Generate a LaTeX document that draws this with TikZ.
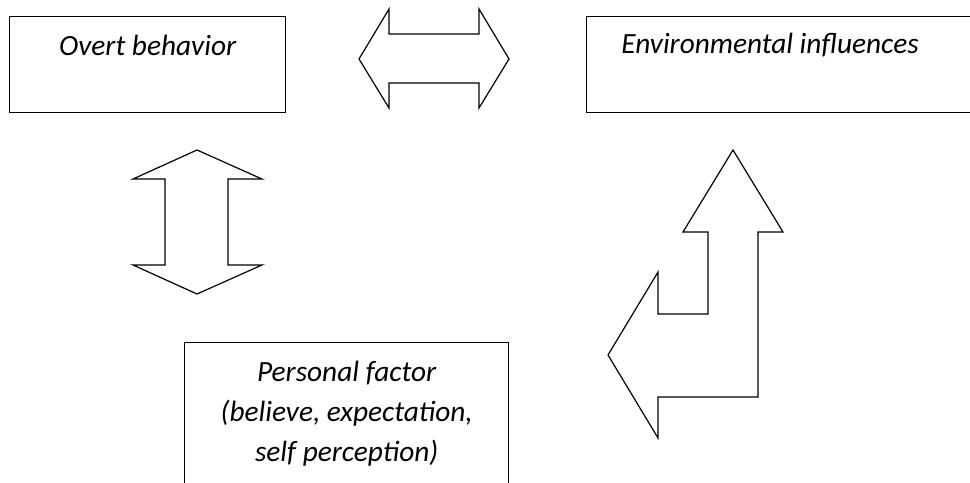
\documentclass[tikz,border=0pt]{standalone}
\usepackage{fontspec}
\setmainfont{Carlito}
\usetikzlibrary{positioning,calc}

\begin{document}
\begin{tikzpicture}[x=0.75pt, y=-0.75pt,
  box/.style={draw, line width=1pt, inner sep=0pt, anchor=north west},
  txt/.style={font=\fontsize{22}{30}\selectfont\itshape, align=center, inner sep=0pt},
  blk/.style={draw, line width=0.9pt, line join=miter},
]
\clip (0,0) rectangle (970,482);

% ====== Boxes ======
\node[box, minimum width=207pt, minimum height=72pt] (overt) at (9,16) {};
\node[txt] (overtlbl) at ($(overt.north)+(0,29)$) {Overt behavior};

\node[box, minimum width=303pt, minimum height=72pt] (env) at (586,16) {};
\node[txt] (envlbl) at ($(env.north west)+(184,29)$) {Environmental influences};

\node[box, minimum width=243pt, minimum height=120pt] (pers) at (184,342) {};
\node[txt] (perslbl) at ($(pers.north)+(0,72)$) {Personal factor\\(believe, expectation,\\self perception)};

% ====== Block arrows ======
% overt <-> environment
\draw[blk] (359,59) -- (389,9) -- (389,34) -- (479,34) -- (479,9) -- (509,59)
  -- (479,108) -- (479,83) -- (389,83) -- (389,108) -- cycle;
% overt <-> personal
\draw[blk] (197,150) -- (262,179) -- (228,179) -- (228,265) -- (262,265) -- (197,294)
  -- (133,265) -- (165,265) -- (165,179) -- (133,179) -- cycle;
% bent arrow, environment / personal
\draw[blk] (733,150) -- (783,232) -- (758,232) -- (758,397) -- (658,397) -- (658,438)
  -- (608,355) -- (658,272) -- (658,314) -- (708,314) -- (708,232) -- (683,232) -- cycle;

\end{tikzpicture}
\end{document}
